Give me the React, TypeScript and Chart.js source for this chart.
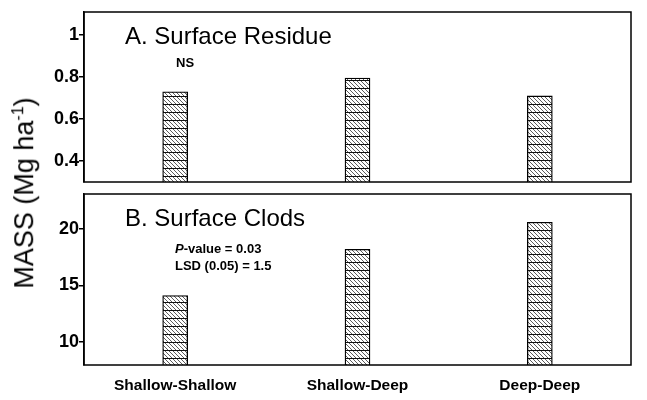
import React, { useEffect, useRef } from "react";
import { Chart, registerables } from "chart.js";

Chart.register(...registerables);

// ---- data ----
const categories = ["Shallow-Shallow", "Shallow-Deep", "Deep-Deep"];
const residueValues = [0.73, 0.795, 0.71];
const clodValues = [14.1, 18.2, 20.6];
const residueTicks = [0.4, 0.6, 0.8, 1];
const clodTicks = [10, 15, 20];
const residueRange = [0.3, 1.11];
const clodRange = [7.95, 23.1];
const residueTitle = "A. Surface Residue";
const clodTitle = "B. Surface Clods";
const residueNote = "NS";
const clodNotes = ["-value = 0.03", "LSD (0.05) = 1.5"];
const yTitleMain = "MASS (Mg ha";
const yTitleSup = "-1";

const FONT = "'Liberation Sans', Arial, Helvetica, sans-serif";

function makeHatch(ctx: CanvasRenderingContext2D) {
  const c = document.createElement("canvas");
  c.width = 4;
  c.height = 8;
  const g = c.getContext("2d")!;
  g.fillStyle = "#fff";
  g.fillRect(0, 0, 4, 8);
  g.strokeStyle = "#333";
  g.lineWidth = 0.8;
  for (let k = -3; k <= 3; k++) {
    g.beginPath();
    g.moveTo(k * 4, 0);
    g.lineTo(k * 4 + 8, 8);
    g.stroke();
  }
  g.strokeStyle = "#111";
  g.lineWidth = 1;
  g.beginPath();
  g.moveTo(0, 0.5);
  g.lineTo(4, 0.5);
  g.stroke();
  return ctx.createPattern(c, "repeat");
}

const framePlugin = {
  id: "panelFrame",
  afterDraw(chart: any) {
    const { ctx, chartArea } = chart;
    const o = chart.options.plugins.panelFrame || {};
    ctx.save();
    ctx.strokeStyle = "#000";
    ctx.lineWidth = 1.5;
    ctx.strokeRect(chartArea.left, chartArea.top, chartArea.right - chartArea.left, chartArea.bottom - chartArea.top);
    ctx.fillStyle = "#000";
    ctx.textBaseline = "middle";
    ctx.textAlign = "left";
    ctx.font = `24px ${FONT}`;
    ctx.fillText(o.title, chartArea.left + 41, chartArea.top + 25);
    if (o.kind === "A") {
      ctx.font = `bold 13px ${FONT}`;
      ctx.fillText(o.note, chartArea.left + 92, chartArea.top + 51);
    } else {
      const x0 = chartArea.left + 91;
      ctx.font = `italic bold 13px ${FONT}`;
      ctx.fillText("P", x0, chartArea.top + 55);
      const w = ctx.measureText("P").width;
      ctx.font = `bold 13px ${FONT}`;
      ctx.fillText(o.notes[0], x0 + w, chartArea.top + 55);
      ctx.fillText(o.notes[1], x0, chartArea.top + 72);
    }
    ctx.restore();
  },
};

function buildConfig(
  ctx: CanvasRenderingContext2D,
  values: number[],
  ticks: number[],
  range: number[],
  showX: boolean,
  padding: any,
  frame: any
): any {
  return {
    type: "bar",
    data: {
      labels: categories,
      datasets: [
        {
          data: values,
          backgroundColor: makeHatch(ctx),
          borderColor: "#000",
          borderWidth: 1.3,
          borderSkipped: false,
          barThickness: 25,
        },
      ],
    },
    options: {
      responsive: false,
      animation: false,
      layout: { padding },
      plugins: {
        legend: { display: false },
        tooltip: { enabled: false },
        panelFrame: frame,
      },
      scales: {
        x: {
          display: showX,
          grid: { display: false, drawTicks: false },
          border: { display: false },
          ticks: {
            color: "#000",
            padding: 11,
            font: { family: FONT, size: 15.5, weight: "bold" },
          },
          afterFit: (s: any) => {
            if (showX) s.height = 35;
            s.paddingLeft = 0;
            s.paddingRight = 0;
          },
        },
        y: {
          min: range[0],
          max: range[1],
          grid: { drawOnChartArea: false, tickLength: 5, color: "#000", lineWidth: 1.5 },
          border: { display: true, color: "#000", width: 1.5 },
          ticks: {
            color: "#000",
            padding: 0,
            font: { family: FONT, size: 18, weight: "bold" },
            callback: (v: any) => String(v),
          },
          afterBuildTicks: (s: any) => {
            s.ticks = ticks.map((v) => ({ value: v }));
          },
          afterFit: (s: any) => {
            s.width = 84;
            s.paddingTop = 0;
            s.paddingBottom = 0;
          },
        },
      },
    },
    plugins: [framePlugin],
  };
}

export default function App() {
  const topRef = useRef<HTMLCanvasElement>(null);
  const botRef = useRef<HTMLCanvasElement>(null);

  useEffect(() => {
    const c1 = topRef.current!;
    const c2 = botRef.current!;
    const ctx1 = c1.getContext("2d")!;
    const ctx2 = c2.getContext("2d")!;
    const ch1 = new Chart(
      c1,
      buildConfig(ctx1, residueValues, residueTicks, residueRange, false, { top: 12, right: 16, bottom: 8, left: 0 }, {
        kind: "A",
        title: residueTitle,
        note: residueNote,
      })
    );
    const ch2 = new Chart(
      c2,
      buildConfig(ctx2, clodValues, clodTicks, clodRange, true, { top: 4, right: 16, bottom: 0, left: 0 }, {
        kind: "B",
        title: clodTitle,
        notes: clodNotes,
      })
    );
    return () => {
      ch1.destroy();
      ch2.destroy();
    };
  }, []);

  return (
    <div style={{ position: "absolute", left: 0, top: 0, width: 647, height: 400, background: "#fff" }}>
      <canvas ref={topRef} width={647} height={190} style={{ position: "absolute", left: 0, top: 0 }} />
      <canvas ref={botRef} width={647} height={210} style={{ position: "absolute", left: 0, top: 190 }} />
      <div
        style={{
          position: "absolute",
          left: 24,
          top: 193,
          transform: "translate(-50%, -50%) rotate(-90deg)",
          whiteSpace: "nowrap",
          fontFamily: FONT,
          fontSize: 27,
          color: "#000",
          lineHeight: 1,
        }}
      >
        {yTitleMain}
        <sup style={{ fontSize: 16, verticalAlign: "0.6em" }}>{yTitleSup}</sup>)
      </div>
    </div>
  );
}
